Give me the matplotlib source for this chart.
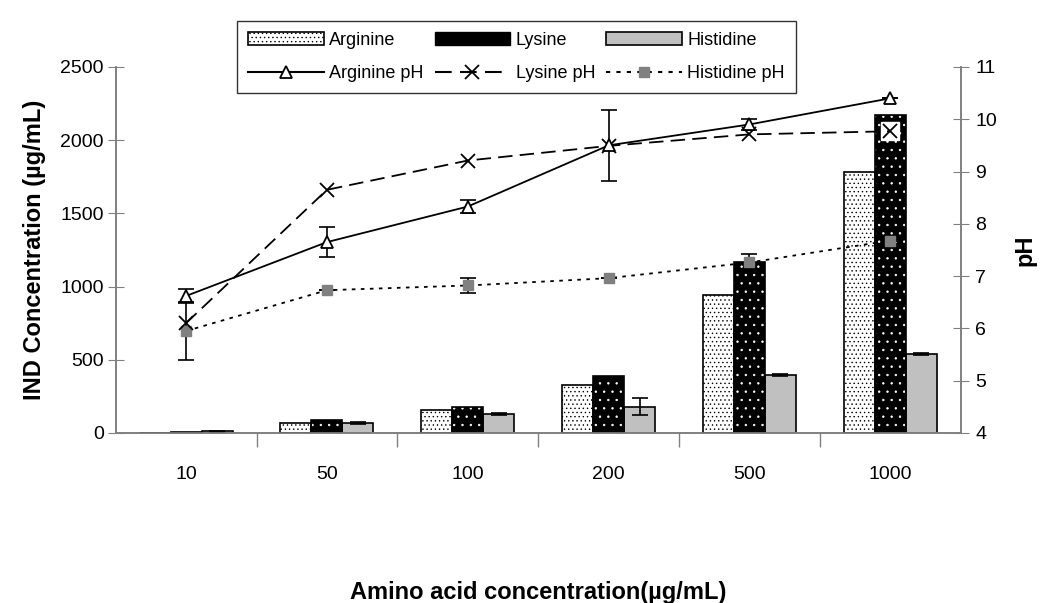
import numpy as np
import matplotlib.pyplot as plt
from matplotlib.lines import Line2D
from matplotlib.patches import Patch

plt.rcParams['font.family'] = ['Liberation Sans', 'DejaVu Sans']
plt.rcParams['hatch.linewidth'] = 0.5

# ------------------------------------------------------------
# data
# ------------------------------------------------------------
categories = ["10", "50", "100", "200", "500", "1000"]

arg_conc = [3, 70, 160, 325, 940, 1780]
lys_conc = [5, 90, 180, 390, 1165, 2170]
his_conc = [10, 70, 130, 180, 395, 540]
his_conc_err = [5, 8, 8, 60, 8, 8]

arg_ph = [6.62, 7.65, 8.33, 9.50, 9.90, 10.40]
arg_ph_err = [0.13, 0.29, 0.12, 0.68, 0.10, 0.0]
lys_ph = [6.10, 8.65, 9.21, 9.49, 9.71, 9.77]
his_ph = [5.95, 6.73, 6.82, 6.96, 7.26, 7.68]
his_ph_err = [0.55, 0.0, 0.14, 0.0, 0.17, 0.0]

GREY = "#808080"

# ------------------------------------------------------------
# figure
# ------------------------------------------------------------
fig = plt.figure(figsize=(10.42, 6.03), dpi=100)
ax = fig.add_axes([0.111, 0.282, 0.811, 0.607])
ax2 = ax.twinx()

x = np.arange(len(categories))
w = 0.22

# Arginine: white with fine black dots
ax.bar(x - w, arg_conc, w, facecolor="white", edgecolor="black",
       hatch="....", linewidth=0, zorder=2)
ax.bar(x - w, arg_conc, w, fill=False, edgecolor="black", linewidth=1.2, zorder=3)

# Lysine: black with small white dots
ax.bar(x, lys_conc, w, facecolor="black", edgecolor="white",
       hatch="..", linewidth=0, zorder=2)
ax.bar(x, lys_conc, w, fill=False, edgecolor="black", linewidth=1.2, zorder=3)

# Histidine: plain grey
ax.bar(x + w, his_conc, w, facecolor="#c0c0c0", edgecolor="black",
       linewidth=1.2, zorder=2)
ax.errorbar(x + w, his_conc, yerr=his_conc_err, fmt="none", ecolor="black",
            elinewidth=1.2, capsize=6, capthick=1.2, zorder=4)

ax.set_xlim(-0.5, len(categories) - 0.5)
ax.set_ylim(0, 2500)
ax.set_yticks(np.arange(0, 2501, 500))

# pH lines on the secondary axis
ax2.set_ylim(4, 11)
ax2.set_yticks(np.arange(4, 12, 1))

# white box behind the lysine crosses
ax2.plot(x, lys_ph, linestyle="none", marker="s", markersize=13,
         markerfacecolor="white", markeredgecolor="white", zorder=2)

ax2.errorbar(x, arg_ph, yerr=arg_ph_err, fmt="none", ecolor="black",
             elinewidth=1.2, capsize=6, capthick=1.2, zorder=3)
ax2.errorbar(x, his_ph, yerr=his_ph_err, fmt="none", ecolor="black",
             elinewidth=1.2, capsize=6, capthick=1.2, zorder=3)

ax2.plot(x, his_ph, color="black", linestyle=(0, (2, 3)), linewidth=1.3,
         marker="s", markersize=7, markerfacecolor=GREY,
         markeredgecolor=GREY, zorder=4)
ax2.plot(x, lys_ph, color="black", linestyle=(0, (8, 4)), linewidth=1.3,
         marker="x", markersize=10, markeredgewidth=1.3, zorder=5)
ax2.plot(x, arg_ph, color="black", linestyle="-", linewidth=1.3,
         marker="^", markersize=9, markerfacecolor="white",
         markeredgecolor="black", markeredgewidth=1.3, zorder=6)

# ------------------------------------------------------------
# axes styling
# ------------------------------------------------------------
for a in (ax, ax2):
    a.spines["top"].set_visible(False)
    for s in ("left", "right", "bottom"):
        a.spines[s].set_color(GREY)
        a.spines[s].set_linewidth(1.2)

ax.set_xticks(x)
ax.set_xticklabels(categories)
ax.set_xticks(np.arange(0.5, len(categories) - 0.5, 1), minor=True)
ax.tick_params(axis="x", which="major", length=0, pad=24, labelsize=14)
ax.tick_params(axis="x", which="minor", length=10, color=GREY, width=1)
ax.tick_params(axis="y", direction="inout", length=11, color=GREY,
               labelsize=14, pad=3)
ax2.tick_params(axis="y", direction="inout", length=11, color=GREY,
                labelsize=14, pad=5)

ax.set_xlabel("Amino acid concentration(µg/mL)", fontsize=17,
              fontweight="bold", labelpad=70)
ax.set_ylabel("IND Concentration (µg/mL)", fontsize=17,
              fontweight="bold", labelpad=10)
ax2.set_ylabel("pH", fontsize=17, fontweight="bold", labelpad=12)

# ------------------------------------------------------------
# legend
# ------------------------------------------------------------
handles = [
    Patch(facecolor="white", edgecolor="black", hatch="....", linewidth=1.2),
    Line2D([], [], color="black", linestyle="-", marker="^", markersize=9,
           markerfacecolor="white", markeredgewidth=1.3),
    Patch(facecolor="black", edgecolor="black"),
    Line2D([], [], color="black", linestyle=(0, (8, 4)), marker="x",
           markersize=10, markeredgewidth=1.3),
    Patch(facecolor="#c0c0c0", edgecolor="black", linewidth=1.2),
    Line2D([], [], color="black", linestyle=(0, (2, 3)), marker="s",
           markersize=7, markerfacecolor=GREY, markeredgecolor=GREY),
]
labels = ["Arginine", "Arginine pH", "Lysine", "Lysine pH",
          "Histidine", "Histidine pH"]
leg = fig.legend(handles, labels, ncol=3, loc="upper left",
                 bbox_to_anchor=(0.219, 0.98), fontsize=13, frameon=True,
                 fancybox=False, edgecolor="black", handlelength=4.2,
                 handleheight=0.7, columnspacing=0.6, handletextpad=0.3,
                 borderpad=0.6, labelspacing=0.9)
leg.get_frame().set_linewidth(1.0)

fig.savefig("out.png", dpi=100)
